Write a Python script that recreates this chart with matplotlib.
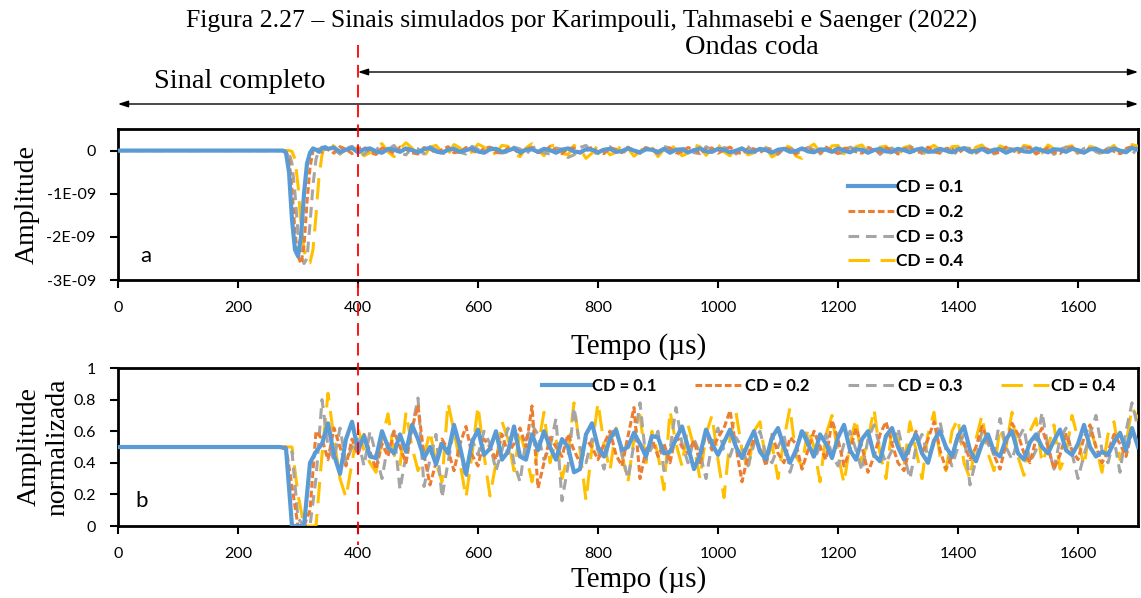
import numpy as np
import matplotlib
matplotlib.use("Agg")
import matplotlib.pyplot as plt
from matplotlib.lines import Line2D
from matplotlib.transforms import blended_transform_factory

plt.rcParams['font.family'] = ['Lato', 'DejaVu Sans']
SERIF = ['Liberation Serif', 'DejaVu Serif']

# ---- data -------------------------------------------------------------
labels = ['CD = 0.1', 'CD = 0.2', 'CD = 0.3', 'CD = 0.4']

# panel a: raw amplitude (x1e-9), time grid: 0, 270..345 step 5, 350..1700 step 10
t_a = [0] + list(range(270, 350, 5)) + list(range(350, 1701, 10))

amp_01 = ([0]
          + [0, 0, -0.05, -0.5, -1.6, -2.3, -2.45, -2.0, -1.0, -0.3, -0.05, 0.05, 0.02, -0.03, 0.05, 0.08]
          + [0.04, 0.07, -0.03, 0.02, 0.06]
          + [-0.04, 0.03, 0.05, -0.02, -0.05, 0.04, 0.02, -0.03, 0.05, 0.01]
          + [-0.04, 0.03, 0.06, -0.02, -0.05, 0.02, 0.04, -0.03, 0.01, 0.05]
          + [-0.02, -0.05, 0.03, 0.04, -0.03, 0.00, 0.05, -0.04, 0.02, 0.03]
          + [-0.03, 0.04, 0.01, -0.05, 0.02, 0.05, -0.02, -0.04, 0.03, 0.02]
          + [-0.04, 0.02, 0.04, -0.03, -0.01, 0.05, 0.00, -0.04, 0.03, 0.02]
          + [-0.03, 0.04, -0.05, 0.02, 0.03, -0.04, 0.01, 0.05, -0.02, -0.03]
          + [0.04, 0.02, -0.04, 0.00, 0.05, -0.03, -0.02, 0.04, 0.01, -0.05]
          + [0.02, 0.04, -0.03, -0.01, 0.05, -0.02, -0.04, 0.03, 0.02, -0.03]
          + [0.05, 0.00, -0.04, 0.03, 0.02, -0.05, 0.01, 0.04, -0.02, -0.03]
          + [0.04, 0.01, -0.04, 0.02, 0.05, -0.03, -0.02, 0.04, 0.00, -0.04]
          + [0.03, 0.05, -0.03, -0.01, 0.04, -0.04, 0.02, 0.03, -0.05, 0.01]
          + [0.04, -0.02, -0.03, 0.05, 0.00, -0.04, 0.03, 0.02, -0.03, 0.04]
          + [0.01, -0.05, 0.03, 0.04, -0.02, -0.03, 0.05, 0.00, -0.04, 0.06]
          + [0.02])

amp_02 = ([0]
          + [0, 0, -0.02, -0.2, -0.9, -1.9, -2.45, -2.62, -2.2, -1.2, -0.4, 0.0, 0.06, 0.02, -0.04, 0.06]
          + [0.02, -0.06, 0.09, 0.03, -0.07]
          + [0.05, 0.08, -0.04, -0.09, 0.06, 0.02, -0.07, 0.08, 0.03, -0.05]
          + [-0.08, 0.07, 0.04, -0.06, 0.02, 0.09, -0.05, -0.03, 0.07, 0.01]
          + [-0.07, 0.05, 0.08, -0.04, -0.06, 0.06, 0.03, -0.08, 0.04, 0.07]
          + [-0.05, -0.02, 0.09, 0.01, -0.07, 0.05, 0.06, -0.06, 0.00, 0.08]
          + [-0.04, -0.07, 0.06, 0.03, -0.05, 0.08, -0.02, -0.06, 0.07, 0.02]
          + [-0.08, 0.05, 0.06, -0.05, -0.03, 0.07, 0.02, -0.07, 0.04, 0.06]
          + [-0.06, 0.01, 0.08, -0.04, -0.07, 0.05, 0.04, -0.05, 0.07, -0.02]
          + [-0.06, 0.06, 0.03, -0.08, 0.02, 0.07, -0.04, -0.05, 0.08, 0.00]
          + [-0.07, 0.05, 0.06, -0.03, -0.06, 0.07, 0.01, -0.05, 0.06, 0.03]
          + [-0.08, 0.04, 0.07, -0.05, -0.02, 0.08, -0.03, -0.06, 0.05, 0.04]
          + [-0.07, 0.06, 0.02, -0.06, 0.07, 0.03, -0.05, -0.04, 0.08, 0.01]
          + [-0.06, 0.05, 0.07, -0.08, 0.00, 0.06, -0.04, -0.07, 0.05, 0.08]
          + [-0.03, -0.06, 0.07, 0.02, -0.05, 0.06, -0.02, -0.07, 0.05, 0.09]
          + [0.03])

amp_03 = ([0]
          + [0, 0, 0, -0.05, -0.3, -1.0, -1.9, -2.4, -2.62, -2.5, -1.7, -0.8, -0.2, 0.02, 0.08, 0.02]
          + [0.08, 0.03, -0.08, 0.05, 0.10]
          + [-0.03, -0.09, 0.06, 0.08, -0.05, 0.02, 0.12, -0.06, -0.10, 0.07]
          + [0.04, -0.08, 0.09, 0.02, -0.11, 0.05, 0.07, -0.04, -0.08, 0.10]
          + [0.03, -0.07, 0.05, 0.09, -0.06, -0.03, 0.08, 0.04, -0.09, 0.06]
          + [0.10, -0.05, -0.08, 0.06, 0.03, -0.16, -0.10, 0.07, 0.12, -0.04]
          + [-0.07, 0.05, 0.09, -0.03, -0.09, 0.06, 0.02, -0.06, 0.08, 0.04]
          + [-0.08, 0.10, 0.05, -0.12, 0.03, 0.08, -0.05, -0.07, 0.09, 0.02]
          + [-0.06, 0.07, 0.04, -0.08, 0.05, 0.09, -0.03, -0.07, 0.06, 0.03]
          + [-0.09, 0.05, 0.08, -0.04, -0.06, 0.07, 0.02, -0.08, 0.06, 0.09]
          + [-0.05, -0.07, 0.08, 0.03, -0.06, 0.05, 0.07, -0.09, 0.02, 0.06]
          + [-0.04, -0.08, 0.09, 0.04, -0.07, 0.06, 0.03, -0.05, 0.08, -0.02]
          + [-0.09, 0.07, 0.05, -0.06, 0.03, 0.09, -0.08, -0.03, 0.06, 0.04]
          + [-0.07, 0.08, 0.02, -0.05, 0.07, 0.05, -0.09, 0.03, 0.08, -0.04]
          + [-0.06, 0.05, 0.09, -0.03, -0.08, 0.06, 0.04, -0.07, 0.03, -0.10]
          + [0.08])

amp_04 = ([0]
          + [0, 0, 0, 0, -0.02, -0.2, -0.8, -1.7, -2.3, -2.58, -2.6, -2.3, -1.5, -0.6, -0.1, 0.15]
          + [0.19, 0.10, -0.08, 0.02, 0.14]
          + [0.04, -0.12, -0.05, 0.10, 0.16, -0.03, -0.14, 0.05, 0.18, 0.06]
          + [-0.10, -0.15, 0.08, 0.12, -0.04, -0.09, 0.14, 0.06, -0.12, -0.03]
          + [0.15, 0.08, -0.11, -0.05, 0.12, 0.10, -0.08, -0.14, 0.06, 0.16]
          + [0.02, -0.12, 0.10, 0.14, -0.06, -0.10, 0.12, 0.04, -0.18, -0.06]
          + [0.13, 0.09, -0.10, -0.04, 0.15, 0.05, -0.13, -0.02, 0.12, 0.08]
          + [-0.14, 0.03, 0.16, 0.02, -0.12, -0.06, 0.13, 0.09, -0.11, 0.04]
          + [0.14, -0.03, -0.12, 0.10, 0.06, -0.10, -0.05, 0.14, 0.07, -0.15]
          + [-0.06, 0.12, 0.08, -0.13, -0.18, 0.06, 0.15, -0.04, -0.10, 0.11]
          + [0.12, -0.07, -0.11, 0.09, 0.13, -0.05, -0.12, 0.08, 0.10, -0.09]
          + [-0.13, 0.07, 0.11, -0.06, -0.14, 0.05, 0.12, 0.02, -0.11, 0.09]
          + [0.10, -0.08, -0.12, 0.08, 0.13, -0.04, -0.10, 0.11, 0.05, -0.13]
          + [-0.04, 0.12, 0.09, -0.10, -0.06, 0.13, 0.04, -0.12, 0.08, 0.11]
          + [-0.09, -0.11, 0.10, 0.06, -0.12, 0.02, 0.12, -0.07, -0.03, 0.14]
          + [0.10])

# panel b: normalized amplitude, time grid: 0, 200..1700 step 10
t_b = [0] + list(range(200, 1701, 10))

norm_01 = ([0.5]
           + [0.5, 0.5, 0.5, 0.5, 0.5, 0.5, 0.5, 0.5, 0.49, 0.0]
           + [0.0, 0.0, 0.40, 0.47, 0.52, 0.65, 0.45, 0.33, 0.55, 0.66]
           + [0.48, 0.57, 0.44, 0.43, 0.60, 0.50, 0.46, 0.58, 0.47, 0.64]
           + [0.55, 0.43, 0.50, 0.39, 0.52, 0.46, 0.64, 0.50, 0.33, 0.53]
           + [0.61, 0.45, 0.49, 0.60, 0.42, 0.47, 0.63, 0.44, 0.42, 0.58]
           + [0.48, 0.60, 0.50, 0.42, 0.55, 0.50, 0.34, 0.36, 0.58, 0.65]
           + [0.50, 0.44, 0.55, 0.61, 0.48, 0.50, 0.59, 0.52, 0.44, 0.57]
           + [0.56, 0.46, 0.47, 0.55, 0.63, 0.50, 0.36, 0.45, 0.61, 0.52]
           + [0.45, 0.53, 0.61, 0.50, 0.43, 0.52, 0.60, 0.47, 0.42, 0.56]
           + [0.62, 0.50, 0.40, 0.48, 0.60, 0.52, 0.44, 0.58, 0.52, 0.43]
           + [0.56, 0.64, 0.48, 0.42, 0.55, 0.60, 0.45, 0.41, 0.57, 0.62]
           + [0.50, 0.42, 0.51, 0.58, 0.46, 0.40, 0.54, 0.60, 0.50, 0.44]
           + [0.57, 0.63, 0.48, 0.41, 0.52, 0.58, 0.47, 0.44, 0.55, 0.60]
           + [0.46, 0.42, 0.53, 0.58, 0.50, 0.46, 0.54, 0.61, 0.48, 0.45]
           + [0.52, 0.64, 0.50, 0.44, 0.47, 0.45, 0.53, 0.59, 0.48, 0.62]
           + [0.50])

norm_02 = ([0.5]
           + [0.5, 0.5, 0.5, 0.5, 0.5, 0.5, 0.5, 0.5, 0.5, 0.25]
           + [0.0, 0.0, 0.10, 0.60, 0.55, 0.42, 0.62, 0.50, 0.38, 0.55]
           + [0.45, 0.58, 0.47, 0.36, 0.52, 0.44, 0.60, 0.50, 0.40, 0.62]
           + [0.76, 0.45, 0.26, 0.40, 0.55, 0.48, 0.35, 0.52, 0.63, 0.45]
           + [0.38, 0.55, 0.50, 0.42, 0.58, 0.46, 0.52, 0.62, 0.50, 0.76]
           + [0.24, 0.40, 0.56, 0.50, 0.44, 0.58, 0.48, 0.40, 0.55, 0.50]
           + [0.42, 0.52, 0.60, 0.45, 0.38, 0.57, 0.75, 0.30, 0.48, 0.55]
           + [0.44, 0.52, 0.40, 0.58, 0.50, 0.46, 0.54, 0.40, 0.60, 0.48]
           + [0.56, 0.62, 0.73, 0.50, 0.28, 0.45, 0.55, 0.50, 0.38, 0.58]
           + [0.46, 0.40, 0.56, 0.52, 0.36, 0.48, 0.60, 0.50, 0.42, 0.67]
           + [0.55, 0.38, 0.48, 0.62, 0.50, 0.34, 0.44, 0.58, 0.66, 0.52]
           + [0.40, 0.35, 0.50, 0.60, 0.46, 0.55, 0.66, 0.48, 0.36, 0.44]
           + [0.58, 0.52, 0.42, 0.50, 0.63, 0.55, 0.45, 0.36, 0.52, 0.65]
           + [0.58, 0.46, 0.40, 0.55, 0.62, 0.50, 0.36, 0.45, 0.58, 0.48]
           + [0.42, 0.56, 0.64, 0.50, 0.40, 0.47, 0.58, 0.52, 0.44, 0.60]
           + [0.52])

norm_03 = ([0.5]
           + [0.5, 0.5, 0.5, 0.5, 0.5, 0.5, 0.5, 0.5, 0.5, 0.47]
           + [0.05, 0.0, 0.0, 0.30, 0.80, 0.50, 0.42, 0.62, 0.40, 0.50]
           + [0.55, 0.38, 0.60, 0.45, 0.30, 0.52, 0.60, 0.23, 0.45, 0.62]
           + [0.81, 0.25, 0.42, 0.58, 0.18, 0.40, 0.62, 0.48, 0.30, 0.55]
           + [0.45, 0.60, 0.52, 0.35, 0.48, 0.62, 0.40, 0.28, 0.55, 0.64]
           + [0.58, 0.42, 0.50, 0.68, 0.16, 0.38, 0.75, 0.50, 0.40, 0.55]
           + [0.48, 0.36, 0.58, 0.62, 0.45, 0.30, 0.52, 0.78, 0.42, 0.50]
           + [0.60, 0.35, 0.48, 0.75, 0.52, 0.40, 0.55, 0.46, 0.30, 0.52]
           + [0.62, 0.48, 0.44, 0.56, 0.50, 0.38, 0.52, 0.60, 0.45, 0.40]
           + [0.50, 0.58, 0.34, 0.46, 0.62, 0.55, 0.42, 0.50, 0.58, 0.45]
           + [0.38, 0.52, 0.60, 0.48, 0.35, 0.55, 0.64, 0.50, 0.40, 0.48]
           + [0.62, 0.45, 0.30, 0.50, 0.58, 0.44, 0.52, 0.66, 0.48, 0.38]
           + [0.50, 0.58, 0.26, 0.42, 0.60, 0.52, 0.45, 0.68, 0.50, 0.42]
           + [0.55, 0.62, 0.40, 0.48, 0.72, 0.50, 0.36, 0.55, 0.62, 0.46]
           + [0.30, 0.45, 0.58, 0.70, 0.48, 0.40, 0.55, 0.34, 0.60, 0.78]
           + [0.62])

norm_04 = ([0.5]
           + [0.5, 0.5, 0.5, 0.5, 0.5, 0.5, 0.5, 0.5, 0.5, 0.50]
           + [0.20, 0.0, 0.0, 0.0, 0.45, 0.84, 0.55, 0.30, 0.18, 0.40]
           + [0.62, 0.48, 0.40, 0.34, 0.55, 0.71, 0.45, 0.38, 0.72, 0.50]
           + [0.35, 0.44, 0.60, 0.40, 0.28, 0.78, 0.60, 0.40, 0.18, 0.45]
           + [0.76, 0.45, 0.19, 0.40, 0.66, 0.55, 0.35, 0.60, 0.45, 0.28]
           + [0.50, 0.72, 0.40, 0.55, 0.30, 0.45, 0.78, 0.48, 0.16, 0.50]
           + [0.78, 0.52, 0.35, 0.62, 0.45, 0.28, 0.55, 0.70, 0.40, 0.60]
           + [0.45, 0.23, 0.73, 0.52, 0.38, 0.64, 0.50, 0.30, 0.58, 0.70]
           + [0.42, 0.18, 0.55, 0.72, 0.48, 0.35, 0.60, 0.66, 0.40, 0.52]
           + [0.30, 0.55, 0.75, 0.44, 0.38, 0.62, 0.50, 0.28, 0.58, 0.70]
           + [0.45, 0.27, 0.52, 0.68, 0.40, 0.55, 0.74, 0.46, 0.30, 0.62]
           + [0.55, 0.38, 0.66, 0.48, 0.30, 0.58, 0.72, 0.44, 0.35, 0.60]
           + [0.68, 0.40, 0.30, 0.55, 0.70, 0.46, 0.35, 0.62, 0.50, 0.72]
           + [0.44, 0.32, 0.60, 0.68, 0.40, 0.50, 0.64, 0.36, 0.45, 0.70]
           + [0.55, 0.38, 0.62, 0.50, 0.34, 0.58, 0.66, 0.42, 0.52, 0.75]
           + [0.68])

amp_series = [amp_01, amp_02, amp_03, amp_04]
norm_series = [norm_01, norm_02, norm_03, norm_04]

a_ticks = [0, -1e-9, -2e-9, -3e-9]
a_ticklabels = ['0', '-1E-09', '-2E-09', '-3E-09']
b_ticks = [0, 0.2, 0.4, 0.6, 0.8, 1]
b_ticklabels = ['0', '0.2', '0.4', '0.6', '0.8', '1']
x_ticks = list(range(0, 1601, 200))

# ---- styles -----------------------------------------------------------
colors = ['#5B9BD5', '#ED7D31', '#A5A5A5', '#FFC000']
styles = ['-', (0, (2.2, 1.0)), (0, (3.5, 2.2)), (0, (7, 3.5))]
widths = [3.0, 2.2, 2.2, 2.2]
zorders = [6, 5, 4, 3]

W, H = 1141, 598
fig = plt.figure(figsize=(W / 100, H / 100), dpi=100)
ax1 = fig.add_axes([118 / W, 1 - 280 / H, 1020 / W, 151 / H])
ax2 = fig.add_axes([118 / W, 1 - 526 / H, 1020 / W, 158 / H])

for i in range(4):
    ax1.plot(t_a, np.array(amp_series[i]) * 1e-9, color=colors[i], ls=styles[i],
             lw=widths[i], zorder=zorders[i], label=labels[i])
    ax2.plot(t_b, norm_series[i], color=colors[i], ls=styles[i],
             lw=widths[i], zorder=zorders[i], label=labels[i])

for ax in (ax1, ax2):
    ax.set_xlim(0, 1700)
    ax.set_xticks(x_ticks)
    for s in ax.spines.values():
        s.set_linewidth(2)
        s.set_color('black')
    ax.tick_params(direction='out', length=6, width=1.5, labelsize=11.5, colors='black')
    ax.tick_params(axis='x', pad=9)
    ax.tick_params(axis='y', pad=10)
    ax.set_xlabel('Tempo (µs)', family=SERIF, fontsize=21)

ax1.set_ylim(-3e-9, 0.5e-9)
ax1.set_yticks(a_ticks)
ax1.set_yticklabels(a_ticklabels)
ax2.set_ylim(0, 1)
ax2.set_yticks(b_ticks)
ax2.set_yticklabels(b_ticklabels)

ax1.set_ylabel('Amplitude', family=SERIF, fontsize=20)
ax2.set_ylabel('Amplitude\nnormalizada', family=SERIF, fontsize=20, linespacing=1.2)
ax1.yaxis.set_label_coords(-0.077, 0.5)
ax2.yaxis.set_label_coords(-0.047, 0.5)
ax1.xaxis.set_label_coords(0.51, -0.35)
ax2.xaxis.set_label_coords(0.51, -0.255)

ax1.text(0.022, 0.12, 'a', transform=ax1.transAxes, fontsize=16)
ax2.text(0.017, 0.12, 'b', transform=ax2.transAxes, fontsize=16)

ax1.legend(loc='upper left', bbox_to_anchor=(0.70, 0.77), frameon=False,
           handlelength=2.7, handletextpad=0.1, labelspacing=0.5,
           prop={'weight': 'bold', 'size': 12.5})
ax2.legend(loc='center', bbox_to_anchor=(0.697, 0.886), ncol=4, frameon=False,
           handlelength=2.9, handletextpad=0.1, columnspacing=2.3,
           prop={'weight': 'bold', 'size': 12})

# separation line at 400 us and the annotation arrows
trans = blended_transform_factory(ax1.transData, fig.transFigure)
fig.add_artist(Line2D([400, 400], [1 - 45 / H, 1 - 545 / H], transform=trans,
                      color='red', lw=1.3, ls=(0, (7, 4))))

arrow = dict(arrowstyle='<|-|>,head_length=0.6,head_width=0.2', color='black',
             lw=1.0, shrinkA=0, shrinkB=0)
ax1.annotate('', xy=(1700, 1 - 72 / H), xytext=(400, 1 - 72 / H),
             xycoords=trans, textcoords=trans, arrowprops=arrow, annotation_clip=False)
ax1.annotate('', xy=(1700, 1 - 104 / H), xytext=(0, 1 - 104 / H),
             xycoords=trans, textcoords=trans, arrowprops=arrow, annotation_clip=False)
fig.text(1057, 1 - 48 / H, 'Ondas coda', transform=trans, family=SERIF,
         fontsize=20.5, ha='center', va='center')
fig.text(203, 1 - 82 / H, 'Sinal completo', transform=trans, family=SERIF,
         fontsize=20.5, ha='center', va='center')
fig.text(582 / W, 1 - 21 / H,
         'Figura 2.27 – Sinais simulados por Karimpouli, Tahmasebi e Saenger (2022)',
         family=SERIF, fontsize=18.5, ha='center', va='center')

fig.savefig('out.png', dpi=100)
